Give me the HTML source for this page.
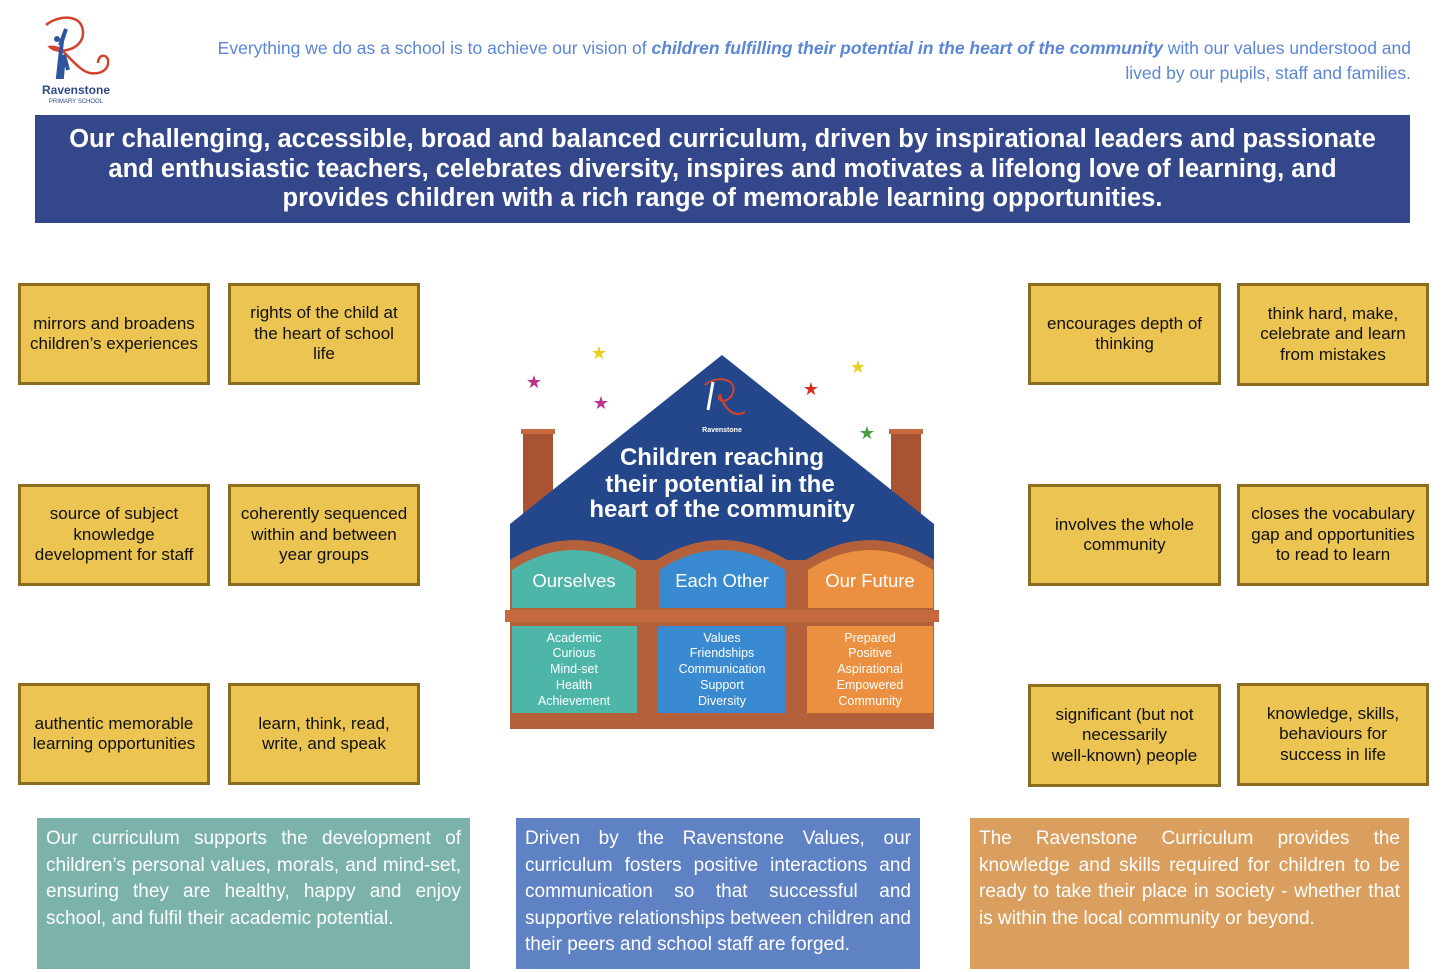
<!DOCTYPE html>
<html><head><meta charset="utf-8"><style>
body{margin:0;width:1445px;height:972px;background:#fff;position:relative;overflow:hidden;font-family:"Liberation Sans",sans-serif}
.a{position:absolute;box-sizing:border-box}
.y{background:#EBC451;border:3px solid #8C6C1E;display:flex;align-items:center;justify-content:center;text-align:center;font-size:17px;line-height:20.5px;color:#111;padding:0 10px}
.b{color:#fff;font-size:19px;line-height:26.5px;text-align:justify;padding:8px 9px}
</style></head><body>
<svg class="a" style="left:38px;top:15px" width="76" height="90" viewBox="0 0 76 90">
<path d="M8 10 C20 0,45 -2,45 18 C45 35,20 40,12 32 C25 30,30 45,45 55 C55 62,72 58,70 45 C68 38,60 40,60 48" fill="none" stroke="#D2432E" stroke-width="2.5"/>
<path d="M22 30 L28 14 L24 26 L20 62 L24 62 L26 40 L30 55" fill="none" stroke="#2F55A0" stroke-width="4"/>
<circle cx="19" cy="24" r="3" fill="#2F55A0"/>
<text x="38" y="79" font-family="Liberation Sans" font-size="12" font-weight="bold" fill="#2F4A8A" text-anchor="middle">Ravenstone</text>
<text x="38" y="88" font-family="Liberation Sans" font-size="6" fill="#2F4A8A" text-anchor="middle">PRIMARY SCHOOL</text>
</svg>
<div class="a" style="left:150px;top:36px;width:1261px;text-align:right;color:#5B86D6;font-size:17.5px;line-height:25px;white-space:nowrap">Everything we do as a school is to achieve our vision of <b><i>children fulfilling their potential in the heart of the community</i></b> with our values understood and<br>lived by our pupils, staff and families.</div>
<div class="a" style="left:35px;top:115px;width:1375px;height:108px;background:#33478A;color:#fff;font-weight:bold;font-size:25.5px;line-height:29.5px;text-align:center;padding:10px 20px 0">Our challenging, accessible, broad and balanced curriculum, driven by inspirational leaders and passionate and enthusiastic teachers, celebrates diversity, inspires and motivates a lifelong love of learning, and provides children with a rich range of memorable learning opportunities.</div>

<div class="a y" style="left:18px;top:283px;width:192px;height:102px;padding:0 3px">mirrors and broadens children’s experiences</div>
<div class="a y" style="left:228px;top:283px;width:192px;height:102px">rights of the child at the heart of school life</div>
<div class="a y" style="left:18px;top:484px;width:192px;height:102px">source of subject knowledge development for staff</div>
<div class="a y" style="left:228px;top:484px;width:192px;height:102px;padding:0 4px">coherently sequenced within and between year groups</div>
<div class="a y" style="left:18px;top:683px;width:192px;height:102px;padding:0 4px">authentic memorable learning opportunities</div>
<div class="a y" style="left:228px;top:683px;width:192px;height:102px">learn, think, read, write, and speak</div>
<div class="a y" style="left:1028px;top:283px;width:193px;height:102px">encourages depth of thinking</div>
<div class="a y" style="left:1237px;top:283px;width:192px;height:103px">think hard, make, celebrate and learn from mistakes</div>
<div class="a y" style="left:1028px;top:484px;width:193px;height:102px">involves the whole community</div>
<div class="a y" style="left:1237px;top:484px;width:192px;height:102px;padding:0 4px">closes the vocabulary gap and opportunities to read to learn</div>
<div class="a y" style="left:1028px;top:684px;width:193px;height:103px;padding:0 16px">significant (but not necessarily<br>well-known) people</div>
<div class="a y" style="left:1237px;top:683px;width:192px;height:103px;padding:0 14px">knowledge, skills, behaviours for success in life</div>

<svg class="a" style="left:500px;top:340px" width="450" height="400" viewBox="500 340 450 400" font-family="Liberation Sans,sans-serif">
<rect x="523" y="430" width="30" height="100" fill="#A85434"/><rect x="521" y="429" width="34" height="5" fill="#C56A40"/>
<rect x="891" y="430" width="30" height="100" fill="#A85434"/><rect x="889" y="429" width="34" height="5" fill="#C56A40"/>
<rect x="510" y="525" width="424" height="204" fill="#B4603A"/>
<polygon points="722,355 510,524 510,560 934,560 934,524" fill="#24478C"/>
<path d="M510 560 Q573 520 640 560 Z M656 560 Q721 520 787 560 Z M806 560 Q870 520 934 560 Z" fill="#B4603A"/>
<path d="M512 608 V570 Q573 530 636 570 V608 Z" fill="#4DB6A9"/>
<path d="M659 608 V570 Q721 530 785 570 V608 Z" fill="#3A8AD1"/>
<path d="M808 608 V570 Q870 530 933 570 V608 Z" fill="#EB9040"/>
<rect x="505" y="610" width="434" height="12" fill="#C56A40"/>
<rect x="512" y="626" width="125" height="87" fill="#4DB6A9"/>
<rect x="658" y="626" width="127" height="87" fill="#3A8AD1"/>
<rect x="807" y="626" width="126" height="87" fill="#EB9040"/>
<g fill="#fff" text-anchor="middle" font-weight="bold">
<text x="722" y="465" font-size="24">Children reaching</text>
<text x="720" y="492" font-size="24">their potential in the</text>
<text x="722" y="517" font-size="24">heart of the community</text>
<text x="722" y="432" font-size="7">Ravenstone</text>
</g>
<path d="M705 385 C715 375,740 378,732 395 C726 405,715 400,720 395 C725 410,735 418,745 412" fill="none" stroke="#D2432E" stroke-width="2"/>
<path d="M708 410 L713 382" stroke="#fff" stroke-width="3"/>
<g fill="#fff" text-anchor="middle" font-size="18.5">
<text x="574" y="587">Ourselves</text><text x="722" y="587">Each Other</text><text x="870" y="587">Our Future</text>
</g>
<g fill="#fff" text-anchor="middle" font-size="12.5">
<text x="574" y="642">Academic</text><text x="574" y="657">Curious</text><text x="574" y="673">Mind-set</text><text x="574" y="689">Health</text><text x="574" y="705">Achievement</text>
<text x="722" y="642">Values</text><text x="722" y="657">Friendships</text><text x="722" y="673">Communication</text><text x="722" y="689">Support</text><text x="722" y="705">Diversity</text>
<text x="870" y="642">Prepared</text><text x="870" y="657">Positive</text><text x="870" y="673">Aspirational</text><text x="870" y="689">Empowered</text><text x="870" y="705">Community</text>
</g>
<g font-size="18" text-anchor="middle" font-family="DejaVu Sans,sans-serif">
<text x="599" y="359" fill="#E8D020">★</text><text x="534" y="388" fill="#C0308A">★</text><text x="601" y="409" fill="#C0308A">★</text>
<text x="858" y="373" fill="#E8D020">★</text><text x="811" y="395" fill="#D83020">★</text><text x="867" y="439" fill="#40A040">★</text>
</g>
</svg>

<div class="a b" style="left:37px;top:818px;width:433px;height:151px;background:#7BB3AB">Our curriculum supports the development of children’s personal values, morals, and mind-set, ensuring they are healthy, happy and enjoy school, and fulfil their academic potential.</div>
<div class="a b" style="left:516px;top:818px;width:404px;height:151px;background:#5F82C5">Driven by the Ravenstone Values, our curriculum fosters positive interactions and communication so that successful and supportive relationships between children and their peers and school staff are forged.</div>
<div class="a b" style="left:970px;top:818px;width:439px;height:151px;background:#DA9F5E">The Ravenstone Curriculum provides the knowledge and skills required for children to be ready to take their place in society - whether that is within the local community or beyond.</div>
</body></html>
